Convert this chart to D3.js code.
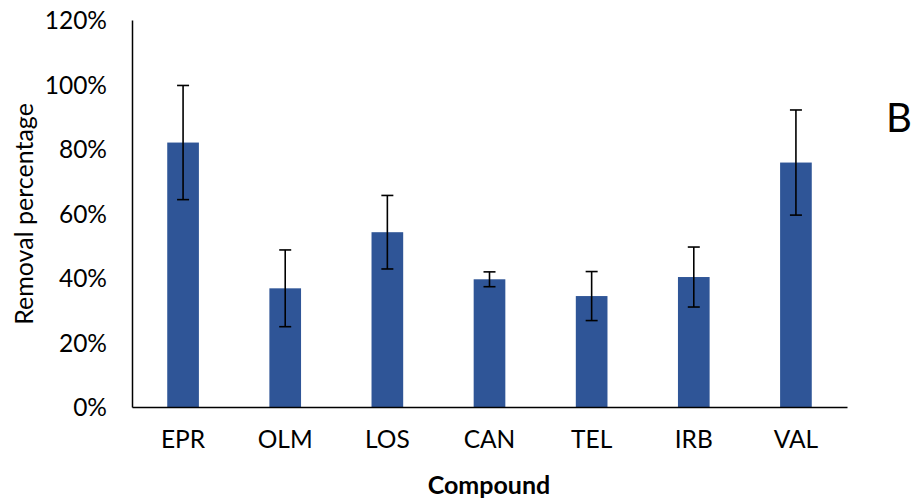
<!DOCTYPE html>
<html>
<head>
<meta charset="utf-8">
<script src="https://cdn.jsdelivr.net/npm/d3@7"></script>
<style>
  body { margin: 0; background: #fff; }
  svg text { font-family: Lato, "Open Sans", sans-serif; fill: #000; }
</style>
</head>
<body>
<svg width="918" height="502"></svg>
<script>
// data
var compounds = ['EPR', 'OLM', 'LOS', 'CAN', 'TEL', 'IRB', 'VAL'];
var removal = [82.0, 36.8, 54.2, 39.6, 34.4, 40.3, 75.8];
var errors = [17.7, 11.9, 11.4, 2.3, 7.6, 9.3, 16.3];
var yTicks = [0, 20, 40, 60, 80, 100, 120];

var svg = d3.select('svg');
var barColor = '#2F5597';

var x = d3.scaleBand()
    .domain(compounds)
    .range([132, 847])
    .paddingInner(0.69)
    .paddingOuter(0.345);

var y = d3.scaleLinear()
    .domain([0, 120])
    .range([407, 20]);

// y axis: line only, labels on the left
var yAxis = svg.append('g')
    .attr('transform', 'translate(132,0)')
    .call(d3.axisLeft(y).tickValues(yTicks).tickSize(0).tickPadding(25)
      .tickFormat(function(d) { return d + '%'; }));
yAxis.select('.domain').attr('stroke', '#000').attr('stroke-width', 1.5);
yAxis.selectAll('text').style('font-size', '24.5px').attr('dy', '0.35em');

var bars = svg.append('g');
bars.selectAll('rect')
    .data(compounds)
    .enter()
    .append('rect')
    .attr('x', function(d) { return x(d); })
    .attr('width', x.bandwidth())
    .attr('y', function(d, i) { return y(removal[i]); })
    .attr('height', function(d, i) { return y(0) - y(removal[i]); })
    .attr('fill', barColor);

// error bars
var errG = svg.append('g').attr('stroke', '#000').attr('stroke-width', 1.6);
compounds.forEach(function(c, i) {
  var cx = x(c) + x.bandwidth() / 2;
  var hi = y(removal[i] + errors[i]);
  var lo = y(removal[i] - errors[i]);
  errG.append('line').attr('x1', cx).attr('x2', cx).attr('y1', hi).attr('y2', lo);
  errG.append('line').attr('x1', cx - 6).attr('x2', cx + 6).attr('y1', hi).attr('y2', hi);
  errG.append('line').attr('x1', cx - 6).attr('x2', cx + 6).attr('y1', lo).attr('y2', lo);
});

// x axis
var xAxis = svg.append('g')
    .attr('transform', 'translate(0,407)')
    .call(d3.axisBottom(x).tickSize(0).tickPadding(24));
xAxis.select('.domain').attr('stroke', '#000').attr('stroke-width', 1.5);
xAxis.selectAll('text').style('font-size', '24.5px');

// titles
svg.append('text')
    .attr('x', 489)
    .attr('y', 494)
    .attr('text-anchor', 'middle')
    .style('font-size', '25px')
    .style('font-weight', 'bold')
    .text('Compound');

svg.append('text')
    .attr('transform', 'translate(33,214) rotate(-90)')
    .attr('text-anchor', 'middle')
    .style('font-size', '25px')
    .text('Removal percentage');

svg.append('text')
    .attr('x', 886)
    .attr('y', 132)
    .style('font-size', '40px')
    .text('B');
</script>
</body>
</html>
